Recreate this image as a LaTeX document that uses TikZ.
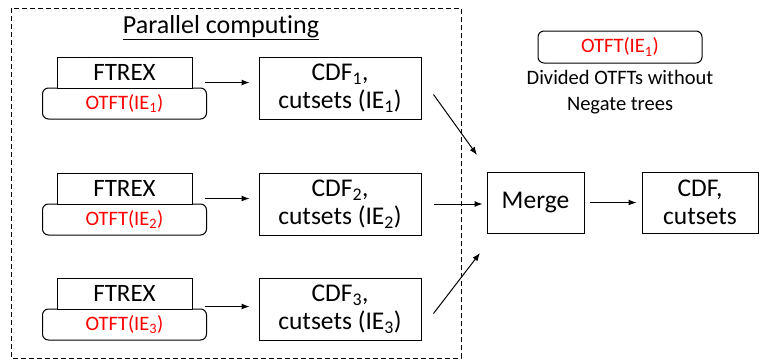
\documentclass[tikz,border=0pt]{standalone}
\usepackage{fontspec}
\setmainfont{Carlito}[Ligatures=NoCommon]
\usetikzlibrary{arrows.meta,calc}
\begin{document}
\begin{tikzpicture}[x=1pt,y=-1pt,
  box/.style={draw,line width=1pt,inner sep=0pt,align=center},
  ftrexbox/.style={box,minimum width=135pt,minimum height=31pt,font=\fontsize{25}{28}\selectfont},
  otftbox/.style={box,rounded corners=6pt,minimum width=164pt,minimum height=31pt,text=red,font=\fontsize{20.5}{24}\selectfont},
  cdfbox/.style={box,minimum width=162pt,minimum height=62pt,font=\fontsize{25.5}{28}\selectfont},
  arr/.style={line width=1pt,-{Latex[length=8pt,width=6pt]}}]
\useasboundingbox (0,0) rectangle (769,360);
\draw[line width=1pt,dash pattern=on 5pt off 3pt] (11,8) rectangle (461,358);
\node[font=\fontsize{26}{30}\selectfont] (title) at (221,28) {\underline{Parallel computing}};
% rows
\foreach \i/\y in {1/57,2/173,3/278}{
  \node[otftbox] (o\i) at (124.5,\y+46.5) {OTFT(IE\textsubscript{\i})};
  \node[ftrexbox,fill=white] (f\i) at (124.5,\y+15.5) {FTREX};
  \node[cdfbox] (c\i) at (340,\y+31) {CDF\textsubscript{\i},\\cutsets (IE\textsubscript{\i})};
}
\draw[arr] ([shift={(12,-6)}]f1.south east) coordinate (s1) -- ([xshift=-9pt]s1 -| c1.west);
\draw[arr] ([shift={(12,-6)}]f2.south east) coordinate (s2) -- ([xshift=-9pt]s2 -| c2.west);
\draw[arr] ([shift={(12,-3)}]f3.south east) coordinate (s3) -- ([xshift=-9pt]s3 -| c3.west);
% merge
\node[box,minimum width=97pt,minimum height=61pt,font=\fontsize{25.5}{28}\selectfont] (merge) at (535.5,202.5) {Merge};
\node[box,minimum width=116pt,minimum height=61pt,font=\fontsize{25.5}{28}\selectfont] (out) at (700,202.5) {CDF,\\cutsets};
\coordinate (e1) at (477,155);
\coordinate (e3) at (480,253);
\draw[arr] ([shift={(12,-25)}]c1.south east) -- (e1);
\draw[arr] ([xshift=12pt]c2.east) -- ([xshift=-4pt]merge.west |- c2.east);
\draw[arr] ([shift={(12,-27)}]c3.south east) -- (e3);
\draw[arr] ([xshift=5pt]merge.east) -- ([xshift=-5pt]out.west);
% legend
\node[box,rounded corners=6pt,minimum width=164pt,minimum height=32pt,text=red,font=\fontsize{20.5}{24}\selectfont] (leg) at (620,47) {OTFT(IE\textsubscript{1})};
\node[align=center,font=\fontsize{20.5}{26}\selectfont,anchor=north,inner sep=0pt] (legtext) at (620,70) {Divided OTFTs without\\Negate trees};
\end{tikzpicture}
\end{document}
